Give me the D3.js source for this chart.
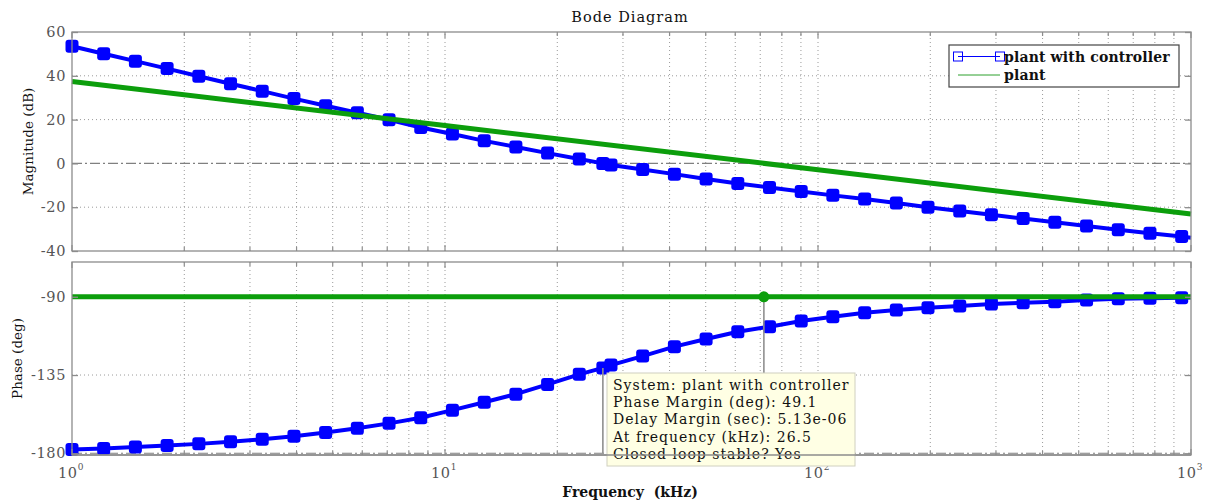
<!DOCTYPE html>
<html>
<head>
<meta charset="utf-8">
<script src="https://cdn.jsdelivr.net/npm/d3@7"></script>
<style>
  body { margin: 0; background: #fff; }
  text { font-family: "DejaVu Serif", serif; }
</style>
</head>
<body>
<script>
// data (frequency in kHz)
const freqKHz = [1.0, 1.216, 1.479, 1.799, 2.188, 2.661, 3.236, 3.936, 4.786, 5.821, 7.079, 8.61, 10.47, 12.74, 15.49, 18.84, 22.91, 26.5,
  27.86, 33.88, 41.21, 50.12, 60.95, 74.13, 90.16, 109.6, 133.4, 162.2, 197.2, 239.9, 291.7, 354.8, 431.5, 524.8, 638.3, 776.2, 944.1, 1000];
const magCtrl = [53.5, 50.1, 46.7, 43.3, 39.8, 36.4, 33.0, 29.6, 26.3, 23.1, 19.9, 16.4, 13.4, 10.3, 7.5, 4.7, 2.0, 0.0,
  -0.7, -2.8, -4.9, -7.1, -9.2, -11.0, -12.8, -14.6, -16.3, -18.1, -20.0, -21.7, -23.4, -25.2, -26.9, -28.6, -30.3, -31.9, -33.4, -33.9];
const phaseCtrl = [-177.8, -177.2, -176.4, -175.6, -174.6, -173.4, -172.0, -170.2, -168.1, -165.6, -162.8, -159.6, -155.2, -150.7, -146.0, -140.4, -134.6, -130.9,
  -129.3, -124.1, -118.7, -114.3, -110.1, -107.2, -103.9, -101.5, -99.2, -97.6, -96.3, -95.3, -94.1, -93.4, -92.8, -91.8, -91.2, -90.8, -90.5, -90.4];

const plantFreq = [1, 10, 100, 1000];
const plantMag = [37.4, 17.3, -2.9, -23.1];
const plantPhase = [-90, -90, -90, -90];

// stability margin markers (crossover freq, phase there)
const marginFreq = [26.5, 71.6];
const marginPhase = [-130.9, -90];

const magTicks = [60, 40, 20, 0, -20, -40];
const phaseTicks = [-90, -135, -180];
const decades = [1, 10, 100, 1000];
const legendNames = ["plant with controller", "plant"];
const tipLines = [
  "System: plant with controller",
  "Phase Margin (deg): 49.1",
  "Delay Margin (sec): 5.13e-06",
  "At frequency (kHz): 26.5",
  "Closed loop stable? Yes"
];

const width = 1222;
const height = 501;
const blue = "#0000ff";
const green = "#0c9e0c";
const frameCol = "#8c8c8c";
const gridCol = "#9a9a9a";
const tickTextCol = "#555";

const svg = d3.select("body").append("svg").attr("width", width).attr("height", height);

const x = d3.scaleLog().domain([1, 1000]).range([72, 1191]);
const yMag = d3.scaleLinear().domain([-40, 60]).range([251, 32]);
const yPh = d3.scaleLinear().domain([-181, -70]).range([455, 262]);

// all grid frequencies 1,2..9,10,20..1000
const gridFreq = [];
decades.slice(0, 3).forEach((d) => d3.range(1, 10).forEach((m) => gridFreq.push(d * m)));
gridFreq.push(1000);

const drawPanel = (g, y, yticks, refVal) => {
  const [y0, y1] = y.range();
  // vertical grid
  g.selectAll("line.vg")
    .data(gridFreq.filter((f) => f > 1 && f < 1000))
    .join("line")
    .attr("class", "vg")
    .attr("x1", (d) => x(d)).attr("x2", (d) => x(d))
    .attr("y1", y0).attr("y2", y1)
    .attr("stroke", gridCol).attr("stroke-width", 1)
    .attr("stroke-dasharray", "1,3");
  // horizontal grid
  g.selectAll("line.hg")
    .data(yticks.filter((t) => t !== refVal && y(t) > y1 + 1 && y(t) < y0 - 1))
    .join("line")
    .attr("class", "hg")
    .attr("x1", x(1)).attr("x2", x(1000))
    .attr("y1", (d) => y(d)).attr("y2", (d) => y(d))
    .attr("stroke", gridCol).attr("stroke-width", 1)
    .attr("stroke-dasharray", "1,3");
  // reference line (0 dB / -180 deg), dash-dot
  g.append("line")
    .attr("x1", x(1)).attr("x2", x(1000))
    .attr("y1", y(refVal)).attr("y2", y(refVal))
    .attr("stroke", "#808080").attr("stroke-width", 1.2)
    .attr("stroke-dasharray", "10,3,2,3");
};

const drawFrame = (g, y, yticks) => {
  const [y0, y1] = y.range();
  g.append("rect")
    .attr("x", x(1)).attr("y", y1)
    .attr("width", x(1000) - x(1)).attr("height", y0 - y1)
    .attr("fill", "none").attr("stroke", frameCol).attr("stroke-width", 1.3);
  // inner ticks top/bottom
  g.selectAll("line.tb")
    .data(gridFreq.flatMap((f) => [[f, y0, -1], [f, y1, 1]]))
    .join("line")
    .attr("class", "tb")
    .attr("x1", (d) => x(d[0])).attr("x2", (d) => x(d[0]))
    .attr("y1", (d) => d[1]).attr("y2", (d) => d[1] + d[2] * (decades.includes(d[0]) ? 6 : 4))
    .attr("stroke", frameCol).attr("stroke-width", 1.2);
  // y axis with labels, ticks inward
  g.append("g")
    .attr("transform", `translate(${x(1)},0)`)
    .call(d3.axisLeft(y).tickValues(yticks).tickSize(-6).tickSizeOuter(0).tickPadding(6))
    .call((a) => a.select(".domain").remove())
    .call((a) => a.selectAll("line").attr("stroke", frameCol).attr("stroke-width", 1.3))
    .call((a) => a.selectAll("text")
      .attr("fill", tickTextCol).attr("font-size", 14.5)
      .attr("letter-spacing", 0.6)
      .attr("font-family", "DejaVu Serif, serif")
      .text((d) => String(d)));
  g.append("g")
    .attr("transform", `translate(${x(1000)},0)`)
    .call(d3.axisRight(y).tickValues(yticks).tickSize(-6).tickSizeOuter(0).tickFormat(""))
    .call((a) => a.select(".domain").remove())
    .call((a) => a.selectAll("line").attr("stroke", frameCol).attr("stroke-width", 1.3));
};

const line = (y) => d3.line().x((d) => x(d[0])).y((d) => y(d[1]));

// ---------- magnitude panel
const gMag = svg.append("g");
drawPanel(gMag, yMag, magTicks, 0);

const ctrlMagPts = freqKHz.map((f, i) => [f, magCtrl[i]]);
gMag.append("path")
  .attr("d", line(yMag)(ctrlMagPts))
  .attr("fill", "none").attr("stroke", blue).attr("stroke-width", 4);
gMag.selectAll("rect.mk")
  .data(ctrlMagPts.slice(0, -1))
  .join("rect")
  .attr("class", "mk")
  .attr("x", (d) => x(d[0]) - 6.5).attr("y", (d) => yMag(d[1]) - 6.5)
  .attr("width", 13).attr("height", 13).attr("rx", 3)
  .attr("fill", blue);
gMag.append("path")
  .attr("d", line(yMag)(plantFreq.map((f, i) => [f, plantMag[i]])))
  .attr("fill", "none").attr("stroke", green).attr("stroke-width", 5);
drawFrame(gMag, yMag, magTicks);

// ---------- phase panel
const gPh = svg.append("g");
drawPanel(gPh, yPh, phaseTicks, -180);

const ctrlPhPts = freqKHz.map((f, i) => [f, phaseCtrl[i]]);
gPh.append("path")
  .attr("d", line(yPh)(ctrlPhPts))
  .attr("fill", "none").attr("stroke", blue).attr("stroke-width", 4);
gPh.selectAll("rect.mk")
  .data(ctrlPhPts.slice(0, -1))
  .join("rect")
  .attr("class", "mk")
  .attr("x", (d) => x(d[0]) - 6.5).attr("y", (d) => yPh(d[1]) - 6.5)
  .attr("width", 13).attr("height", 13).attr("rx", 3)
  .attr("fill", blue);
gPh.append("path")
  .attr("d", line(yPh)(plantFreq.map((f, i) => [f, plantPhase[i]])))
  .attr("fill", "none").attr("stroke", green).attr("stroke-width", 5);

// margin lines + dots
gPh.selectAll("line.pm")
  .data(marginFreq.map((f, i) => [f, marginPhase[i]]))
  .join("line")
  .attr("class", "pm")
  .attr("x1", (d) => x(d[0])).attr("x2", (d) => x(d[0]))
  .attr("y1", (d) => yPh(d[1])).attr("y2", yPh(-180))
  .attr("stroke", "#8f8f8f").attr("stroke-width", 1.6);
gPh.append("circle")
  .attr("cx", x(marginFreq[1])).attr("cy", yPh(marginPhase[1]))
  .attr("r", 5.5).attr("fill", green);
drawFrame(gPh, yPh, phaseTicks);

// x tick labels 10^n
const xl = svg.append("g")
  .selectAll("text")
  .data(decades)
  .join("text")
  .attr("x", (d) => x(d) - 1)
  .attr("y", 478)
  .attr("text-anchor", "middle")
  .attr("fill", tickTextCol)
  .attr("font-size", 14.5)
  .attr("letter-spacing", 0.6);
xl.append("tspan").text("10");
xl.append("tspan").attr("dy", -8).attr("font-size", 9).text((d) => Math.round(Math.log10(d)));

// titles / labels
svg.append("text")
  .attr("x", 630).attr("y", 22)
  .attr("text-anchor", "middle").attr("font-size", 14.5).attr("fill", "#111")
  .attr("letter-spacing", 1)
  .text("Bode Diagram");
svg.append("text")
  .attr("x", 630).attr("y", 497)
  .attr("text-anchor", "middle").attr("font-size", 14).attr("font-weight", "bold").attr("fill", "#111")
  .style("white-space", "pre")
  .text("Frequency  (kHz)");
svg.append("text")
  .attr("transform", `translate(33,${(yMag(60) + yMag(-40)) / 2}) rotate(-90)`)
  .attr("text-anchor", "middle").attr("font-size", 13.5).attr("fill", "#111")
  .text("Magnitude (dB)");
svg.append("text")
  .attr("transform", `translate(22,${(yPh.range()[0] + yPh.range()[1]) / 2}) rotate(-90)`)
  .attr("text-anchor", "middle").attr("font-size", 13.5).attr("fill", "#111")
  .text("Phase (deg)");

// legend
const lg = svg.append("g");
lg.append("rect")
  .attr("x", 949).attr("y", 45).attr("width", 230).attr("height", 42)
  .attr("fill", "#fff").attr("stroke", "#444").attr("stroke-width", 1.2);
lg.append("line")
  .attr("x1", 958).attr("x2", 1000).attr("y1", 56.5).attr("y2", 56.5)
  .attr("stroke", blue).attr("stroke-width", 1);
lg.selectAll("rect.lm")
  .data([958, 1000])
  .join("rect")
  .attr("class", "lm")
  .attr("x", (d) => d - 4.5).attr("y", 52).attr("width", 9).attr("height", 9)
  .attr("fill", "none").attr("stroke", blue).attr("stroke-width", 1);
lg.append("line")
  .attr("x1", 958).attr("x2", 1000).attr("y1", 75).attr("y2", 75)
  .attr("stroke", "#2ca02c").attr("stroke-width", 1);
lg.selectAll("text")
  .data(legendNames)
  .join("text")
  .attr("x", 1004)
  .attr("y", (d, i) => 61.5 + i * 18.5)
  .attr("font-size", 14).attr("font-weight", "bold").attr("fill", "#111")
  .attr("letter-spacing", 0.15)
  .text((d) => d);

// data tip box
const tip = svg.append("g");
tip.append("rect")
  .attr("x", 607).attr("y", 373).attr("width", 248).attr("height", 93)
  .attr("fill", "#ffffe4").attr("stroke", "#d0d0c0").attr("stroke-width", 1);
tip.selectAll("text")
  .data(tipLines)
  .join("text")
  .attr("x", 613)
  .attr("y", (d, i) => 390 + i * 17.2)
  .attr("font-size", 14).attr("fill", "#111")
  .attr("letter-spacing", 1)
  .text((d) => d);
// bottom frame line shows over the box
svg.append("line")
  .attr("x1", x(1)).attr("x2", x(1000))
  .attr("y1", yPh(-181)).attr("y2", yPh(-181))
  .attr("stroke", frameCol).attr("stroke-width", 1.3);
</script>
</body>
</html>
